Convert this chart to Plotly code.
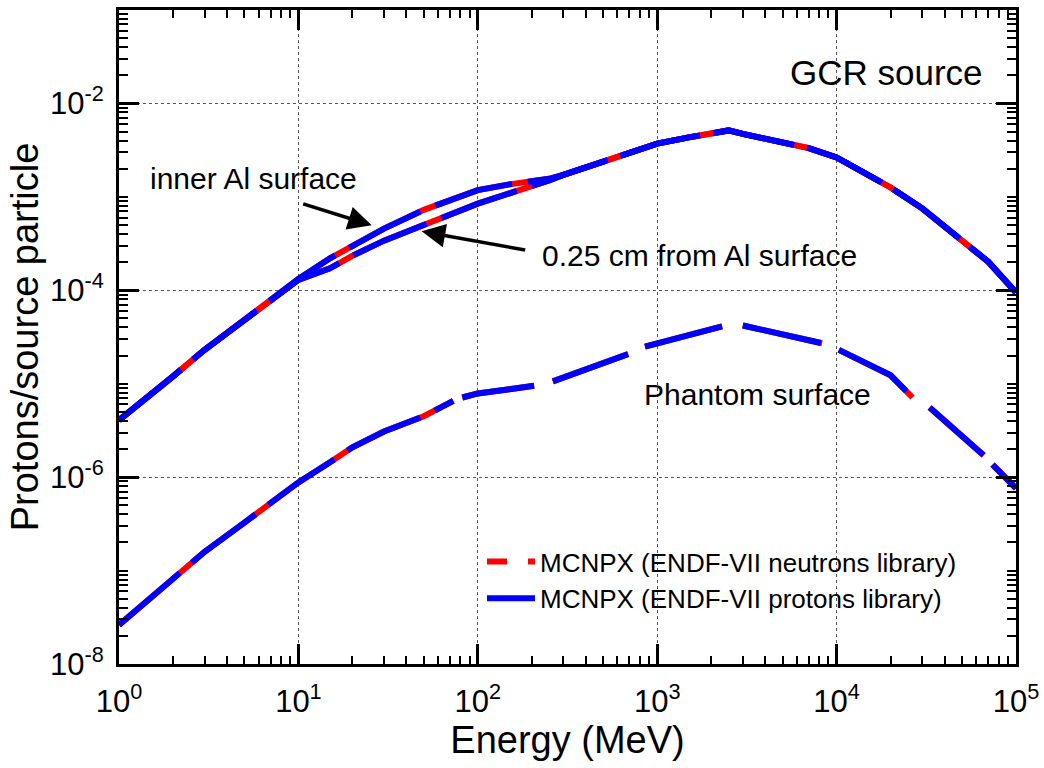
import plotly.graph_objects as go

# ---------------- data ----------------
energy_al = [1, 1.5, 2, 3, 5, 7, 10, 15, 20, 30, 50, 70, 100, 150, 200, 250, 300,
             500, 700, 1000, 1500, 2000, 2500, 3000, 5000, 7000, 10000, 15000,
             20000, 30000, 50000, 70000, 100000]
inner_al = [4.07e-6, 7.53e-6, 1.20e-5, 2.31e-5, 4.82e-5, 7.74e-5, 1.32e-4, 2.20e-4,
            2.99e-4, 4.57e-4, 7.26e-4, 9.33e-4, 1.18e-3, 1.36e-3, 1.48e-3, 1.56e-3,
            1.72e-3, 2.37e-3, 2.92e-3, 3.71e-3, 4.33e-3, 4.78e-3, 5.14e-3, 4.72e-3,
            3.83e-3, 3.32e-3, 2.64e-3, 1.74e-3, 1.26e-3, 7.53e-4, 3.43e-4, 2.02e-4, 9.5e-5]
depth_al = [4.07e-6, 7.53e-6, 1.20e-5, 2.31e-5, 4.82e-5, 7.74e-5, 1.29e-4, 1.72e-4,
            2.34e-4, 3.40e-4, 5.09e-4, 6.55e-4, 8.46e-4, 1.09e-3, 1.28e-3, 1.50e-3,
            1.72e-3, 2.37e-3, 2.92e-3, 3.71e-3, 4.33e-3, 4.78e-3, 5.14e-3, 4.72e-3,
            3.83e-3, 3.32e-3, 2.64e-3, 1.74e-3, 1.26e-3, 7.53e-4, 3.43e-4, 2.02e-4, 9.5e-5]

energy_ph = [1, 1.5, 2, 3, 5, 7, 10, 15, 20, 30, 50, 73, 77, 82, 100, 150, 206, 233,
             262, 400, 690, 770, 855, 1500, 2300, 2640, 3000, 5000, 8300, 9250, 10300,
             20000, 26500, 29500, 33000, 50000, 66000, 70000, 74000, 100000]
phantom = [2.61e-8, 5.14e-8, 8.11e-8, 1.59e-7, 3.26e-7, 5.27e-7, 8.79e-7, 1.44e-6,
           2.09e-6, 3.08e-6, 4.49e-6, 6.55e-6, None, 7.12e-6, 7.87e-6, 8.73e-6, 9.51e-6,
           None, 1.06e-5, 1.43e-5, 2.08e-5, None, 2.50e-5, 3.31e-5, 4.10e-5, None,
           4.20e-5, 3.38e-5, 2.71e-5, None, 2.30e-5, 1.23e-5, 7.12e-6, None, 5.55e-6,
           2.76e-6, 1.72e-6, None, 1.36e-6, 7.6e-7]

series_names = ["MCNPX (ENDF-VII neutrons library)", "MCNPX (ENDF-VII protons library)"]
series_colors = ["#ff0000", "#0000ff"]

x_ticks = [1, 10, 100, 1000, 10000, 100000]
x_ticktext = ["10<sup>0</sup>", "10<sup>1</sup>", "10<sup>2</sup>", "10<sup>3</sup>",
              "10<sup>4</sup>", "10<sup>5</sup>"]
y_ticks = [1e-8, 1e-6, 1e-4, 1e-2]
y_ticktext = ["10<sup>-8</sup>", "10<sup>-6</sup>", "10<sup>-4</sup>", "10<sup>-2</sup>"]

FONT = "Liberation Sans, Arial, Helvetica, sans-serif"

x_minor = [k * 10 ** n for n in range(0, 5) for k in range(2, 10)]
y_minor = [k * 10 ** n for n in range(-8, -1) for k in range(1, 10)
           if not (k == 1 and 10 ** n in y_ticks)]

fig = go.Figure()

curves = [(energy_al, inner_al), (energy_al, depth_al), (energy_ph, phantom)]

# red (neutron library) underneath, continuous
for ex, ey in curves:
    fig.add_trace(go.Scatter(
        x=ex, y=ey, mode="lines", name=series_names[0], legendgroup="n",
        showlegend=False, line=dict(color=series_colors[0], width=6),
        connectgaps=False, hoverinfo="skip"))
# legend entry for the neutron-library style
fig.add_trace(go.Scatter(
    x=[None], y=[None], mode="lines", name=series_names[0], legendgroup="n",
    showlegend=True, line=dict(color=series_colors[0], width=6, dash="20px,21px,7px,60px")))
# blue (proton library) on top
for i, (ex, ey) in enumerate(curves):
    fig.add_trace(go.Scatter(
        x=ex, y=ey, mode="lines", name=series_names[1], legendgroup="p",
        showlegend=(i == 0), line=dict(color=series_colors[1], width=6, dash="80px,16px"),
        connectgaps=False))

axis_common = dict(
    type="log", showline=True, linecolor="black", linewidth=3, mirror="allticks",
    ticks="inside", ticklen=20, tickwidth=2.5, tickcolor="black",
    showgrid=True, gridcolor="#555555", gridwidth=1, griddash="dot",
    zeroline=False, automargin=False,
    tickfont=dict(family=FONT, size=31, color="black"),
)
minor_common = dict(tickmode="array", ticks="inside", tickwidth=2, tickcolor="black",
                    showgrid=False)

fig.update_xaxes(
    **axis_common, range=[0, 5], tickmode="array", tickvals=x_ticks, ticktext=x_ticktext,
    minor=dict(**minor_common, tickvals=x_minor, ticklen=8),
    title=dict(text="Energy (MeV)", font=dict(family=FONT, size=38, color="black"),
               standoff=6),
    ticklabelstandoff=8,
)
fig.update_yaxes(
    **axis_common, range=[-8, -1], tickmode="array", tickvals=y_ticks, ticktext=y_ticktext,
    minor=dict(**minor_common, tickvals=y_minor, ticklen=9),
    title=dict(text="Protons/source particle", font=dict(family=FONT, size=38, color="black"),
               standoff=0),
    ticklabelstandoff=6,
)

PW, PH = 897.0, 654.0
def px(xp):
    return (xp - 119) / PW
def py(yp):
    return (664 - yp) / PH

text_annos = [
    ("GCR source", 985, 72, "right", 35),
    ("inner Al surface", 148, 179, "left", 30),
    ("0.25 cm from Al surface", 540, 256, "left", 30),
    ("Phantom surface", 642, 394, "left", 30),
]
for t, xx, yy, anc, fs in text_annos:
    fig.add_annotation(text=t, xref="paper", yref="paper", x=px(xx), y=py(yy),
                       xanchor=anc, yanchor="middle", showarrow=False,
                       font=dict(family=FONT, size=fs, color="black"))

# arrows (tip positions in log10 data coordinates, tails in pixels)
fig.add_annotation(x=1.4086, y=-3.305, xref="x", yref="y", text="", showarrow=True,
                   ax=-70, ay=-22, arrowhead=2, arrowsize=1.35, arrowwidth=3.5,
                   arrowcolor="black")
fig.add_annotation(x=1.687, y=-3.369, xref="x", yref="y", text="", showarrow=True,
                   ax=105, ay=19, arrowhead=2, arrowsize=1.35, arrowwidth=3.5,
                   arrowcolor="black")

fig.update_layout(
    width=1044, height=768,
    margin=dict(l=119, r=28, t=10, b=104),
    paper_bgcolor="white", plot_bgcolor="white",
    font=dict(family=FONT, color="black"),
    legend=dict(x=px(482), y=py(538), xanchor="left", yanchor="top",
                bgcolor="rgba(0,0,0,0)", borderwidth=0, itemwidth=48,
                font=dict(family=FONT, size=26, color="black"), tracegroupgap=0),
)

fig.write_html("out.html", config={"displayModeBar": False},
               post_script="document.body.style.margin='0';"
                           "document.body.style.overflow='hidden';")
